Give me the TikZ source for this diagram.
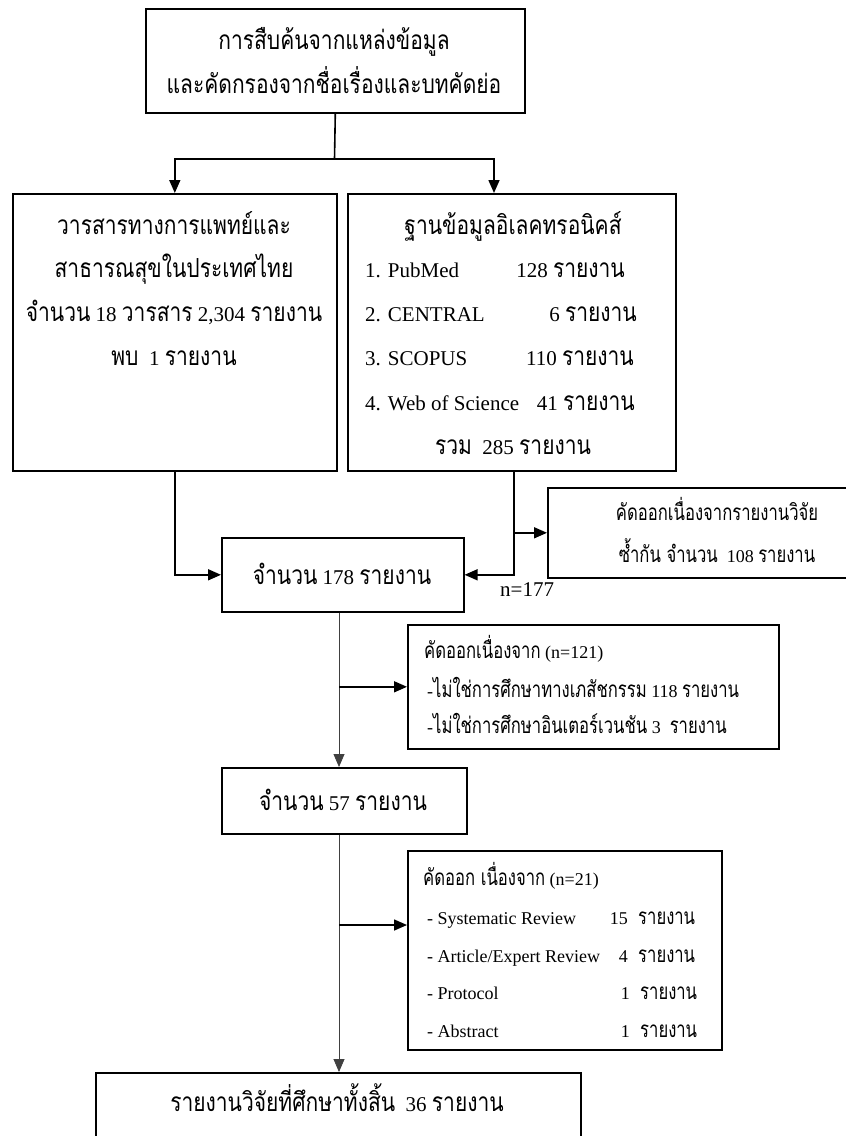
\documentclass[tikz,border=0pt]{standalone}
\usepackage{fontspec}
\setmainfont{Liberation Serif}
\newfontfamily\thaiB[Script=Thai,Scale=1.25,FakeStretch=0.8]{Loma}
\newfontfamily\thaiS[Script=Thai,Scale=1.25,FakeStretch=0.74]{Loma}
\let\thaicur\thaiB
\usetikzlibrary{arrows.meta,calc}
\newcommand\T[1]{{\thaicur #1}}
\begin{document}
\begin{tikzpicture}[x=1pt,y=-1pt,
  box/.style={draw, line width=1.6pt, inner sep=0pt, anchor=north west},
  conn/.style={line width=1.6pt},
  thinconn/.style={line width=0.8pt, draw=black!75},
  arr/.style={-{Triangle[length=13pt,width=11pt]}},
  big/.style={font=\fontsize{21}{25}\selectfont\let\thaicur\thaiB, inner sep=0pt},
  small/.style={font=\fontsize{18}{22}\selectfont\let\thaicur\thaiS, inner sep=0pt}]
\clip (0,0) rectangle (846,1136);
\fill[white] (0,0) rectangle (846,1136);
% boxes
\node[box, minimum width=379pt, minimum height=104pt] (top) at (145,8) {};
\node[box, minimum width=324pt, minimum height=277pt] (left) at (12,193) {};
\node[box, minimum width=328pt, minimum height=277pt] (right) at (347,193) {};
\node[box, minimum width=320pt, minimum height=90pt] (dedup) at (547,487) {};
\node[box, minimum width=242pt, minimum height=74pt] (b178) at (221,537) {};
\node[box, minimum width=371pt, minimum height=124pt] (b121) at (407,624) {};
\node[box, minimum width=245pt, minimum height=66pt] (b57) at (221,767) {};
\node[box, minimum width=314pt, minimum height=199pt] (b21) at (407,850) {};
\node[box, minimum width=485pt, minimum height=100pt] (final) at (95,1072) {};
% texts
\node[big, anchor=base] (t1) at (334,49) {\T{การสืบค้นจากแหล่งข้อมูล}};
\node[big, anchor=base] (t2) at (334,93) {\T{และคัดกรองจากชื่อเรื่องและบทคัดย่อ}};
\node[big, anchor=base] (l1) at (174,234) {\T{วารสารทางการแพทย์และ}};
\node[big, anchor=base] (l2) at (174,277) {\T{สาธารณสุขในประเทศไทย}};
\node[big, anchor=base] (l3) at (174,321) {\T{จำนวน} 18 \T{วารสาร} 2,304 \T{รายงาน}};
\node[big, anchor=base] (l4) at (174,365) {\T{พบ}\ \ 1 \T{รายงาน}};
\node[big, anchor=base] (r0) at (513,234) {\T{ฐานข้อมูลอิเลคทรอนิคส์}};
\node[big, anchor=base west] (r1a) at (365,277) {1. PubMed};
\node[big, anchor=base east] (r1b) at (625,277) {128 \T{รายงาน}};
\node[big, anchor=base west] (r2a) at (365,321) {2. CENTRAL};
\node[big, anchor=base east] (r2b) at (637,321) {6 \T{รายงาน}};
\node[big, anchor=base west] (r3a) at (365,365) {3. SCOPUS};
\node[big, anchor=base east] (r3b) at (634,365) {110 \T{รายงาน}};
\node[big, anchor=base west] (r4a) at (365,410) {4. Web of Science};
\node[big, anchor=base east] (r4b) at (635,410) {41 \T{รายงาน}};
\node[big, anchor=base] (r5) at (513,454) {\T{รวม}\ \ 285 \T{รายงาน}};
\node[small, anchor=base] (d1) at (717,520) {\T{คัดออกเนื่องจากรายงานวิจัย}};
\node[small, anchor=base] (d2) at (717,562) {\T{ซ้ำกัน จำนวน}\ \ 108 \T{รายงาน}};
\node[big, anchor=base] (c178) at (342,584) {\T{จำนวน} 178 \T{รายงาน}};
\node[big, anchor=base west] (n177) at (500,596) {n=177};
\node[small, anchor=base west] (e1) at (424,658) {\T{คัดออกเนื่องจาก} (n=121)};
\node[small, anchor=base west] (e2) at (427,697) {-\T{ไม่ใช่การศึกษาทางเภสัชกรรม} 118 \T{รายงาน}};
\node[small, anchor=base west] (e3) at (427,733) {-\T{ไม่ใช่การศึกษาอินเตอร์เวนชัน} 3\ \ \T{รายงาน}};
\node[big, anchor=base] (c57) at (343,810) {\T{จำนวน} 57 \T{รายงาน}};
\node[small, anchor=base west] (f0) at (423,885) {\T{คัดออก เนื่องจาก} (n=21)};
\node[small, anchor=base west] (f1a) at (427,924) {- Systematic Review};
\node[small, anchor=base east] (f1b) at (628,924) {15};
\node[small, anchor=base west] (f1c) at (638,924) {\T{รายงาน}};
\node[small, anchor=base west] (f2a) at (427,962) {- Article/Expert Review};
\node[small, anchor=base east] (f2b) at (628,962) {4};
\node[small, anchor=base west] (f2c) at (638,962) {\T{รายงาน}};
\node[small, anchor=base west] (f3a) at (427,999) {- Protocol};
\node[small, anchor=base east] (f3b) at (630,999) {1};
\node[small, anchor=base west] (f3c) at (640,999) {\T{รายงาน}};
\node[small, anchor=base west] (f4a) at (427,1037) {- Abstract};
\node[small, anchor=base east] (f4b) at (630,1037) {1};
\node[small, anchor=base west] (f4c) at (640,1037) {\T{รายงาน}};
\node[big, anchor=base] (cfin) at (337,1111) {\T{รายงานวิจัยที่ศึกษาทั้งสิ้น}\ \ 36 \T{รายงาน}};
% connectors
\coordinate (split) at (334.5,159);
\coordinate (rin) at (494,193);
\coordinate (rout) at (514,470);
\coordinate (mx) at (339,0);
\coordinate (b21in) at (407,925);
\draw[conn] (top.south) -- (split);
\draw[conn,arr] (split) -| (left.north);
\draw[conn,arr] (split) -| (rin);
\draw[conn,arr] (left.south) |- (b178.west);
\draw[conn,arr] (rout) |- (b178.east);
\draw[conn,arr] (rout |- dedup.west) -- (dedup.west);
\draw[thinconn,arr] (b178.south -| mx) -- (b57.north -| mx);
\draw[conn,arr] (mx |- b121.west) -- (b121.west);
\draw[thinconn,arr] (b57.south -| mx) -- (final.north -| mx);
\draw[conn,arr] (mx |- b21in) -- (b21in);
\end{tikzpicture}
\end{document}
